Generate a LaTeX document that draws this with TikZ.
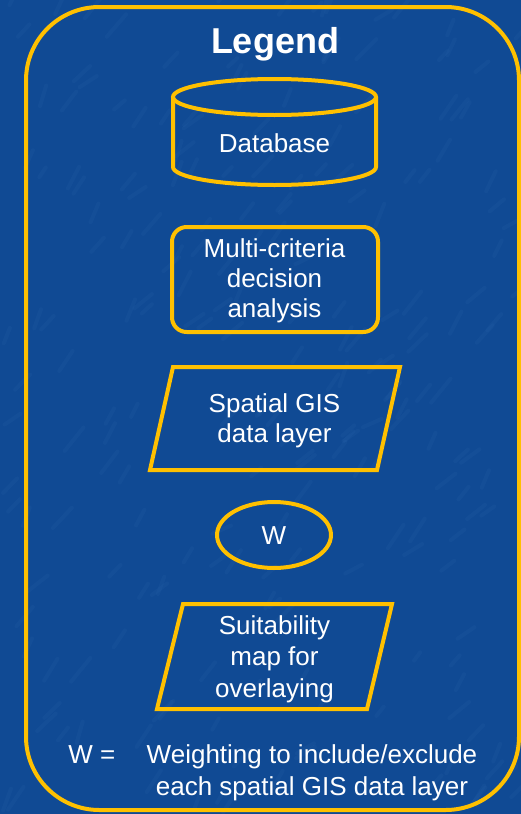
\documentclass[tikz,border=0pt]{standalone}
\usepackage{fontspec}
\setmainfont{Liberation Sans}
\definecolor{slideblue}{RGB}{16,74,148}
\definecolor{streakblue}{RGB}{50,110,180}
\definecolor{gold}{RGB}{255,192,0}
\tikzset{
  outline/.style={draw=gold, line width=3pt},
  label/.style={text=white, font=\fontsize{19.5}{22.5}\selectfont, align=center, inner sep=0pt},
}
\begin{document}
\begin{tikzpicture}[x=0.75pt,y=-0.75pt]
\fill[slideblue] (0,0) rectangle (521,814);
\useasboundingbox (0,0) rectangle (521,814);
% background streaks
\pgfmathsetseed{11}
\foreach \i in {1,...,220}
  \draw[streakblue, opacity=0.12, line width=3pt, line cap=round] ({rnd*521},{rnd*814}) -- ++({6+rnd*14},{-8-rnd*16});
% frame
\draw[outline, rounded corners=55pt] (26,7) rectangle (519,810);
\node[label, font=\bfseries\fontsize{27}{30}\selectfont, anchor=base] (title) at (275,53) {Legend};
% database
\draw[outline] (173,97) -- (173,167) arc[start angle=180, end angle=0, x radius=101.5, y radius=18] -- (376,97);
\draw[outline] (274.5,97) ellipse[x radius=101.5, y radius=18];
\node[label, anchor=base] (db) at (274.5,152) {Database};
% analysis
\draw[outline, rounded corners=11pt] (172,227) rectangle (378,332);
\node[label, anchor=base] (mcda) at (274.5,317) {Multi-criteria\\decision\\analysis};
% layer
\draw[outline] (173,367) -- (400,367) -- (377,470) -- (150,470) -- cycle;
\node[label, anchor=base] (layer) at (274.5,442) {Spatial GIS\\data layer};
% weighting
\draw[outline] (274,535) ellipse[x radius=57, y radius=33];
\node[label, anchor=base] (w) at (274,544) {W};
% suitability
\draw[outline] (183,604) -- (392,604) -- (367,709) -- (157,709) -- cycle;
\node[label, font=\fontsize{19.5}{23.5}\selectfont, anchor=base] (suit) at (274.5,697) {Suitability\\map for\\overlaying};
% key
\node[label, anchor=base west] (wkey) at (68,763) {W =};
\node[label, font=\fontsize{19.5}{24}\selectfont, anchor=base] (wtext) at (312,795) {Weighting to include/exclude\\each spatial GIS data layer};
\end{tikzpicture}
\end{document}
